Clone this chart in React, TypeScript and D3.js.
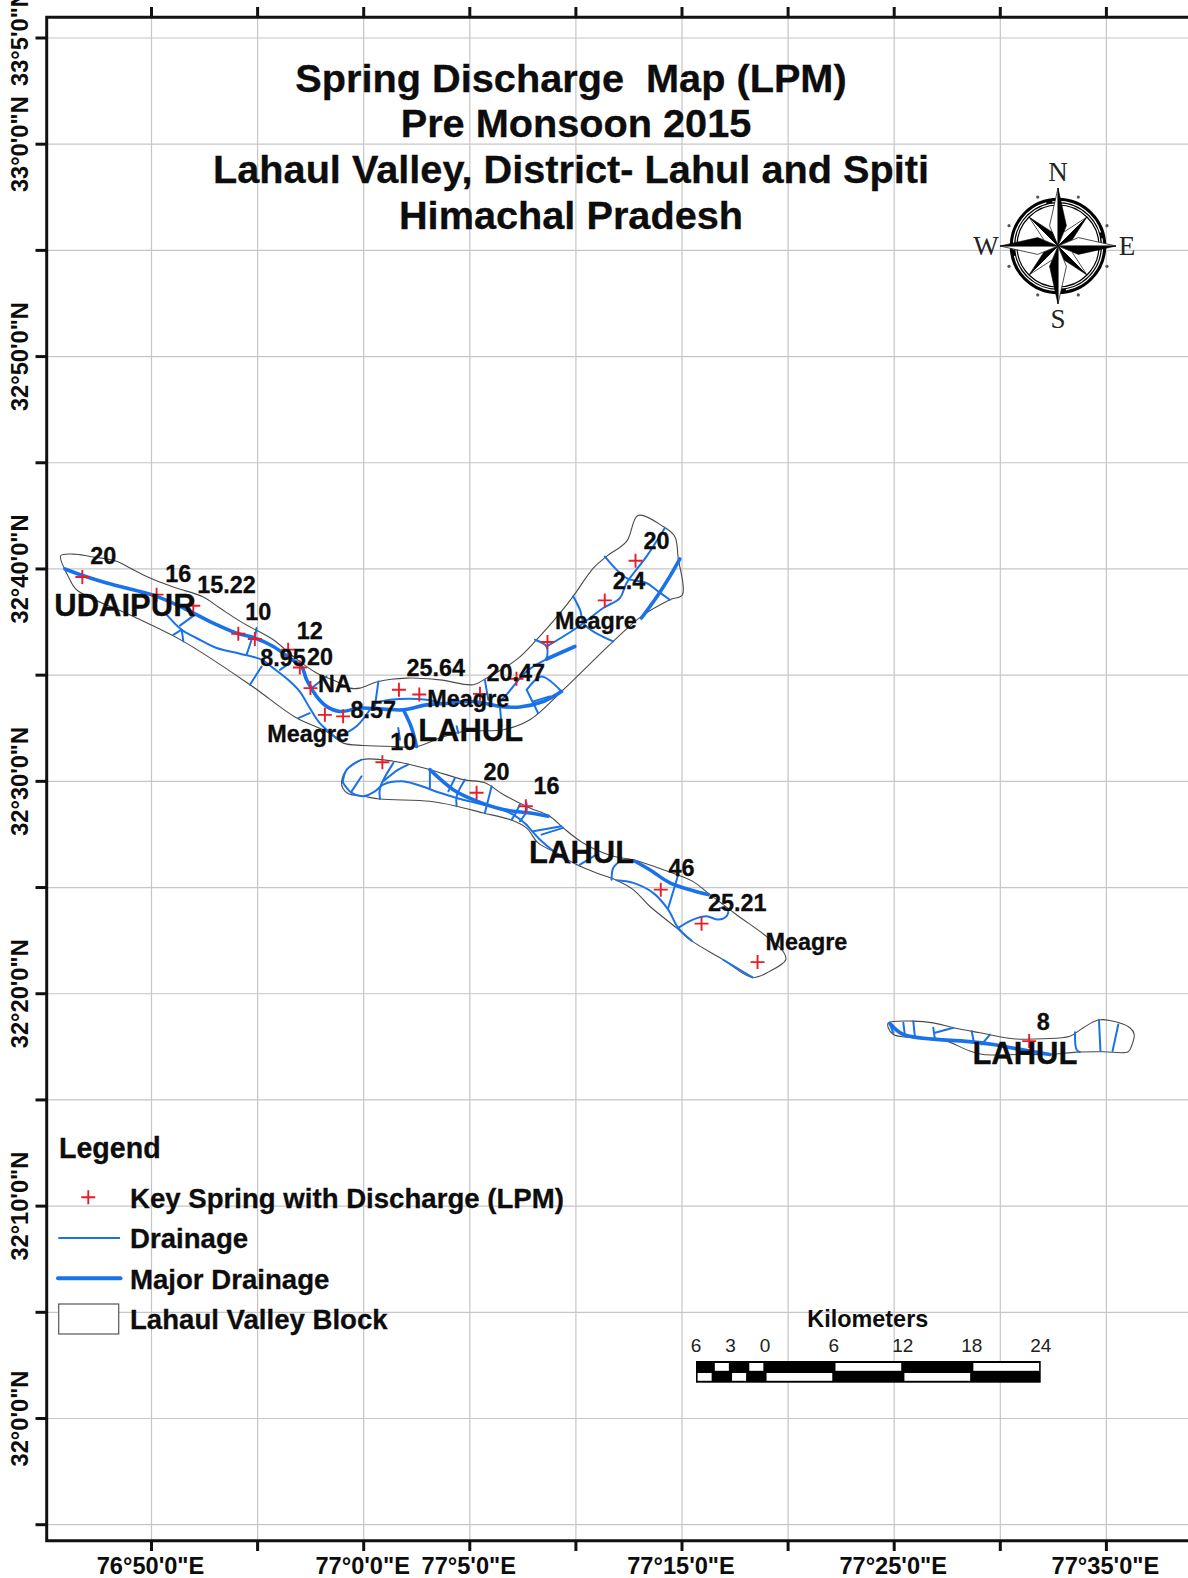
import * as d3 from 'd3'

const width = 1188, height = 1578

// map positions are arc minutes: east of 76°00' and north of 32°00'
type Pt = [number, number]

const lonTicks = [50, 55, 60, 65, 70, 75, 80, 85, 90, 95]
const latTicks = [65, 60, 55, 50, 45, 40, 35, 30, 25, 20, 15, 10, 5, 0, -5]
const lonLabels: [number, string][] = [
  [50, `76°50'0"E`], [60, `77°0'0"E`], [65, `77°5'0"E`],
  [75, `77°15'0"E`], [85, `77°25'0"E`], [95, `77°35'0"E`]
]
const latLabels: [number, string][] = [
  [65, `33°5'0"N`], [60, `33°0'0"N`], [50, `32°50'0"N`], [40, `32°40'0"N`],
  [30, `32°30'0"N`], [20, `32°20'0"N`], [10, `32°10'0"N`], [0, `32°0'0"N`]
]

const titleLines = ['Spring Discharge  Map (LPM)', 'Pre Monsoon 2015', 'Lahaul Valley, District- Lahul and Spiti', 'Himachal Pradesh']

const blocks: Pt[][] = [
  [[45.72,40.62],[46.32,40.70],[47.10,40.59],[48.36,40.36],[48.99,40.04],[49.93,39.57],[51.03,39.15],[52.44,38.68],[53.22,38.16],[54.32,37.45],[55.74,36.67],[56.68,35.88],[57.78,35.10],[58.72,34.70],[59.35,34.39],[59.82,34.39],[60.69,34.70],[62.02,34.86],[63.59,34.78],[65.16,34.55],[65.79,34.86],[67.20,35.73],[68.15,36.67],[69.25,37.92],[69.87,38.71],[70.82,40.04],[71.44,40.59],[72.39,41.30],[72.93,42.52],[74.11,42.00],[74.66,41.53],[74.82,40.51],[75.02,38.79],[74.43,38.55],[73.09,37.77],[71.76,36.59],[69.32,34.23],[67.83,32.90],[66.58,32.43],[64.69,32.35],[63.59,32.04],[62.49,31.64],[61.40,31.64],[59.98,31.69],[59.04,31.80],[58.25,32.35],[56.84,32.98],[54.64,34.55],[51.50,36.59],[48.97,37.84],[46.47,39.02],[46.08,39.65],[45.92,39.96]],
  [[58.96,30.00],[59.20,30.55],[59.90,31.02],[61.40,30.95],[63.12,30.55],[64.69,30.08],[65.71,29.93],[66.58,29.38],[67.83,28.75],[68.77,28.36],[69.40,27.81],[70.34,27.10],[71.76,26.47],[72.70,26.31],[74.11,25.84],[75.51,25.29],[76.23,24.74],[77.57,23.72],[78.98,22.70],[79.76,22.00],[79.89,21.60],[79.14,21.06],[78.32,20.77],[76.94,21.60],[75.37,22.55],[74.74,23.10],[73.48,24.12],[72.70,24.90],[71.91,25.34],[70.97,25.69],[70.03,26.08],[69.09,26.63],[68.22,27.10],[67.67,27.81],[66.89,28.20],[65.63,28.51],[64.38,28.83],[63.12,29.06],[60.77,29.17],[59.98,29.30],[59.28,29.42],[59.01,29.69]],
  [[84.72,18.63],[85.90,18.71],[86.84,18.63],[87.79,18.40],[89.04,18.16],[90.61,17.88],[92.02,17.88],[93.28,18.00],[93.91,18.40],[94.61,18.76],[95.16,18.74],[96.11,18.40],[96.31,18.08],[96.18,17.53],[96.03,17.27],[94.85,17.27],[93.59,17.25],[92.34,17.14],[90.93,17.14],[89.20,17.14],[88.57,17.30],[87.24,17.85],[85.90,17.93],[84.96,18.08],[84.72,18.40]]
]

const majorDrainage: Pt[][] = [
  [[45.92,40.00],[46.79,39.68],[47.89,39.34],[49.46,38.94],[50.24,38.71],[51.34,38.24],[52.12,37.85],[52.91,37.45],[54.01,36.98],[54.87,36.75],[55.74,36.35],[56.52,35.80],[57.07,35.41],[57.31,34.78],[57.78,34.00],[58.25,33.53],[58.88,33.29],[59.82,33.45],[60.92,33.40],[61.87,33.37],[62.97,33.60],[64.06,33.68],[65.16,33.76],[66.42,33.53],[67.36,33.50],[68.46,33.76],[69.32,34.23]],
  [[61.87,33.37],[62.26,32.51],[62.49,31.64]],
  [[69.95,36.35],[68.62,35.76]],
  [[74.90,40.47],[74.43,39.65],[73.88,38.79],[73.09,37.69]],
  [[72.78,26.24],[73.48,25.84],[74.43,25.22],[75.37,24.90],[76.23,24.67]],
  [[63.12,30.55],[64.22,29.61],[65.16,29.14],[66.58,28.67],[67.83,28.51],[68.70,28.36]],
  [[84.80,18.60],[85.43,18.08],[87.00,17.85],[88.26,17.77],[89.67,17.61],[90.93,17.38],[92.34,17.14]]
]

const minorDrainage: Pt[][] = [
  [[68.62,35.76],[67.68,35.18],[66.73,34.08],[66.42,33.76]],
  [[50.71,37.85],[51.42,37.14],[52.12,36.75],[53.07,36.28],[54.17,36.01],[55.19,35.73],[55.74,35.33],[56.44,34.78],[56.99,34.23],[57.46,33.45],[57.93,32.74],[58.72,32.04]],
  [[54.48,35.96],[54.72,36.67]],
  [[55.19,35.41],[54.64,34.55]],
  [[51.50,36.59],[51.42,37.14]],
  [[51.03,36.90],[51.42,37.14]],
  [[51.34,37.33],[52.05,37.85]],
  [[56.05,35.25],[56.52,35.57]],
  [[56.91,32.98],[57.46,33.21]],
  [[57.54,34.39],[58.25,34.94]],
  [[58.72,32.04],[59.66,32.59],[60.29,33.37]],
  [[54.95,37.22],[54.87,36.75]],
  [[60.69,34.70],[60.53,33.53]],
  [[61.63,32.51],[61.71,31.96]],
  [[60.53,33.69],[61.24,33.84],[62.97,33.84],[63.75,33.65]],
  [[64.38,32.59],[64.46,32.27]],
  [[65.71,34.78],[65.87,33.84]],
  [[66.42,33.53],[66.50,32.59]],
  [[68.62,35.73],[68.62,36.35],[68.07,36.67]],
  [[68.62,36.35],[70.03,37.22],[71.29,38.16],[72.07,38.63],[72.39,39.34],[73.33,40.59],[74.19,41.93]],
  [[67.68,34.31],[67.99,33.68],[68.22,33.21]],
  [[67.68,34.31],[68.38,34.94],[69.32,34.23]],
  [[67.99,33.76],[68.77,34.00]],
  [[69.87,38.71],[70.19,38.08],[70.42,37.37],[71.76,36.59]],
  [[71.36,40.59],[72.39,39.57],[73.33,39.34],[73.88,38.94],[74.43,38.55]],
  [[59.01,29.96],[59.43,29.46],[59.98,29.30],[60.53,29.53],[60.92,29.85],[61.79,30.00],[62.49,29.85],[63.59,29.46],[64.38,29.22],[65.32,28.98],[66.26,28.75],[67.05,28.43],[67.67,27.96]],
  [[59.01,29.96],[59.20,30.55],[59.90,31.02]],
  [[59.43,29.53],[59.90,30.24]],
  [[60.77,29.17],[60.77,29.69],[61.40,30.87]],
  [[60.92,30.00],[61.63,30.55],[62.10,30.79]],
  [[63.12,30.55],[63.12,29.69]],
  [[64.30,30.16],[63.99,29.53]],
  [[64.77,30.08],[64.38,29.30],[64.38,28.83]],
  [[66.03,29.77],[65.71,28.51]],
  [[67.67,28.98],[67.67,28.59],[67.36,28.12]],
  [[67.36,28.91],[67.12,28.43],[66.97,28.20]],
  [[67.99,27.65],[69.32,27.89]],
  [[68.38,27.49],[69.40,27.81]],
  [[67.67,27.96],[68.30,27.26],[68.85,26.79],[69.72,26.16]],
  [[70.19,26.08],[70.97,26.55]],
  [[71.68,25.37],[71.76,25.92],[72.07,26.24]],
  [[71.91,25.34],[72.70,25.22],[73.64,24.75],[74.35,23.96],[74.82,23.10],[75.45,22.50]],
  [[74.35,24.04],[74.66,25.06],[74.82,25.61]],
  [[74.82,23.10],[75.52,23.49],[76.15,23.65],[76.70,23.49],[77.10,23.65],[77.17,23.96],[76.78,24.04]],
  [[76.94,21.60],[78.32,20.77]],
  [[84.80,18.55],[84.96,18.16]],
  [[85.43,18.63],[85.51,18.00]],
  [[85.90,18.71],[85.98,17.93]],
  [[86.84,18.40],[86.92,17.85]],
  [[86.92,18.16],[87.79,18.40]],
  [[88.65,18.24],[88.76,17.69]],
  [[89.51,18.08],[89.12,17.61]],
  [[93.52,18.19],[93.59,17.38],[93.75,17.25]],
  [[94.65,18.76],[94.72,17.30]],
  [[95.56,18.55],[95.29,17.30]]
]

const springs: Pt[] = [
  [46.74,39.62],[50.24,38.79],[51.97,38.27],[54.09,36.95],[54.87,36.70],[56.44,36.20],[56.99,35.36],[57.49,34.39],[58.17,33.13],[59.03,33.06],
  [61.66,34.31],[62.62,34.09],[65.48,34.12],[67.20,34.83],[68.66,36.56],[71.36,38.52],[72.81,40.39],
  [60.88,30.90],[65.32,29.46],[67.64,28.83],[74.00,24.90],[75.92,23.30],[78.56,21.49],[91.36,17.77]
]

const dischargeLabels: [string, number, number][] = [
  ['20',47.73,40.23],['16',51.26,39.37],['15.22',53.54,38.87],['10',55.03,37.58],['12',57.46,36.71],['8.95',56.20,35.41],['20',57.94,35.49],['NA',58.64,34.20],
  ['8.57',60.45,32.98],['Meagre',57.38,31.83],['25.64',63.40,34.94],['Meagre',64.93,33.50],['20.47',67.17,34.71],['Meagre',70.94,37.17],['2.4',72.50,39.07],['20',73.80,40.95],
  ['10',61.87,31.49],['20',66.26,30.05],['16',68.62,29.42],['46',74.98,25.53],['25.21',77.60,23.91],['Meagre',80.86,22.04],['8',92.02,18.29]
]
const placeLabels: [string, number, number][] = [
  ['UDAIPUR',48.75,37.80],['LAHUL',65.04,31.88],['LAHUL',70.27,26.16],['LAHUL',91.16,16.67]
]

const scaleBreaks = [-6, -4.5, -3, -1.5, 0, 6, 12, 18, 24]
const scaleLabels = [-6, -3, 0, 6, 12, 18, 24]

const legendItems = ['Key Spring with Discharge (LPM)', 'Drainage', 'Major Drainage', 'Lahaul Valley Block']

const compassPoints = d3.range(8).map(i => i * Math.PI / 4)
const compassTicks = d3.range(8).map(i => Math.PI / 8 + i * Math.PI / 4)

const BLUE = '#1a72ea'
const INK = '#0d0d0d'
const RED = '#ea1c28'
const SANS = '"Liberation Sans", Arial, sans-serif'

const x = d3.scaleLinear().domain([50, 95]).range([151.5, 1106.4])
const y = d3.scaleLinear().domain([65, -5]).range([38, 1524.7])
const km = d3.scaleLinear().domain([-6, 24]).range([696, 1040.7])

const flow = d3.line<Pt>().x(d => x(d[0])).y(d => y(d[1])).curve(d3.curveCatmullRom.alpha(0.5))
const outline = d3.line<Pt>().x(d => x(d[0])).y(d => y(d[1])).curve(d3.curveCatmullRomClosed.alpha(0.5))

const plus = (cx: number, cy: number, r = 7) => `M${cx - r},${cy}H${cx + r}M${cx},${cy - r}V${cy + r}`

const Compass = () => {
  const cx = 1058, cy = 246
  const poly = (pts: [number, number][]) => 'M' + pts.map(p => p.join(',')).join('L') + 'Z'
  const spike = (a: number, r: number, side: number, s: number) =>
    poly([[0, 0], d3.pointRadial(a, r), d3.pointRadial(a + s * Math.PI / 8, side)])
  return (
    <g transform={`translate(${cx},${cy})`}>
      <circle r={45.5} fill='none' stroke='#000' strokeWidth={5.5} />
      <circle r={44.6} fill='none' stroke='#fff' strokeWidth={1.2} strokeDasharray='62 6' />
      <circle r={41} fill='none' stroke='#000' strokeWidth={1.2} />
      {compassTicks.map((a, i) => {
        const [tx, ty] = d3.pointRadial(a, 53)
        return <circle key={i} cx={tx} cy={ty} r={1.6} fill='#555' />
      })}
      {compassPoints.map((a, i) => {
        const diag = i % 2 === 1
        const r = diag ? 41 : 58
        const side = diag ? 15 : 22
        return (
          <g key={i}>
            <path d={spike(a, r, side, -1)} fill='#fff' stroke='#222' strokeWidth={0.8} strokeLinejoin='round' />
            <path d={spike(a, r, side, 1)} fill='#000' stroke='#000' strokeWidth={0.6} strokeLinejoin='round' />
          </g>
        )
      })}
      <g fontFamily='"Liberation Serif", serif' fontSize={27} fill='#222' textAnchor='middle'>
        <text x={0} y={-65}>N</text>
        <text x={0} y={82}>S</text>
        <text x={-72} y={9}>W</text>
        <text x={69} y={9}>E</text>
      </g>
    </g>
  )
}

export default function App() {
  const left = 46.7, top = 17.3, bottom = 1540.7
  return (
    <svg width={width} height={height} viewBox={`0 0 ${width} ${height}`}
      style={{ position: 'absolute', left: 0, top: 0, display: 'block', background: '#fff' }}>
      {/* graticule */}
      <g stroke='#c6c6c6' strokeWidth={1.2}>
        {lonTicks.map(d => <line key={d} x1={x(d)} x2={x(d)} y1={top} y2={bottom} />)}
        {latTicks.map(d => <line key={d} x1={left} x2={width} y1={y(d)} y2={y(d)} />)}
      </g>

      {blocks.map((b, i) => <path key={i} d={outline(b) ?? ''} fill='none' stroke='#4a4a4a' strokeWidth={1.1} />)}
      <g fill='none' stroke={BLUE} strokeLinecap='round' strokeLinejoin='round'>
        {minorDrainage.map((d, i) => <path key={i} d={flow(d) ?? ''} strokeWidth={2} />)}
        {majorDrainage.map((d, i) => <path key={i} d={flow(d) ?? ''} strokeWidth={3.6} />)}
      </g>
      {springs.map((s, i) => <path key={i} d={plus(x(s[0]), y(s[1]))} stroke={RED} strokeWidth={1.9} fill='none' />)}

      <g fontFamily={SANS} fontWeight={700} fill={INK} stroke={INK} strokeWidth={0.3} textAnchor='middle'>
        {dischargeLabels.map((l, i) => <text key={i} x={x(l[1])} y={y(l[2])} fontSize={23.4}>{l[0]}</text>)}
        {placeLabels.map((l, i) => <text key={i} x={x(l[1])} y={y(l[2])} fontSize={31}>{l[0]}</text>)}
        {titleLines.map((t, i) => (
          <text key={i} x={i === 1 ? 576 : 571} y={91.8 + i * 45.6} fontSize={39.7} style={{ whiteSpace: 'pre' }}>{t}</text>
        ))}
      </g>

      {/* frame and ticks */}
      <path d={`M${width},${top}H${left}V${bottom}H${width}`} fill='none' stroke='#111' strokeWidth={3} />
      <g stroke='#111' strokeWidth={3}>
        {lonTicks.map(d => (
          <g key={d}>
            <line x1={x(d)} x2={x(d)} y1={7} y2={top} />
            <line x1={x(d)} x2={x(d)} y1={bottom} y2={1551} />
          </g>
        ))}
        {latTicks.map(d => <line key={d} x1={35.5} x2={left} y1={y(d)} y2={y(d)} />)}
      </g>
      <g fontFamily={SANS} fontWeight={700} fontSize={23.6} fill={INK} textAnchor='middle'>
        {lonLabels.map(([d, t]) => <text key={d} x={x(d) - 1} y={1574}>{t}</text>)}
        {latLabels.map(([d, t]) => (
          <text key={d} transform={`translate(28,${y(d)}) rotate(-90)`}>{t}</text>
        ))}
      </g>

      {/* legend */}
      <g fontFamily={SANS} fontWeight={700} fill={INK} stroke={INK} strokeWidth={0.3}>
        <text x={59} y={1158} fontSize={28.6}>Legend</text>
        {legendItems.map((t, i) => <text key={t} x={130} y={1207.6 + i * 40.6} fontSize={27.6}>{t}</text>)}
      </g>
      <path d={plus(88.3, 1197.3)} stroke={RED} strokeWidth={1.9} fill='none' />
      <line x1={58.3} x2={120} y1={1238} y2={1238} stroke={BLUE} strokeWidth={1.8} />
      <line x1={58} x2={120.5} y1={1278.3} y2={1278.3} stroke={BLUE} strokeWidth={4} strokeLinecap='round' />
      <rect x={58.7} y={1304} width={60} height={30} fill='#fff' stroke='#555' strokeWidth={1.2} />

      {/* scale bar */}
      <g fontFamily={SANS} fill={INK} textAnchor='middle'>
        <text x={867.8} y={1326.7} fontSize={23.4} fontWeight={700}>Kilometers</text>
        {scaleLabels.map(d => <text key={d} x={km(d)} y={1351.7} fontSize={19} fill='#222'>{Math.abs(d)}</text>)}
      </g>
      <rect x={km(-6)} y={1361} width={km(24) - km(-6)} height={21.7} fill='#000' />
      {d3.pairs(scaleBreaks).map(([a, b], i) => (
        <rect key={a} x={km(a) + 1.6} width={km(b) - km(a) - 3.2} y={i % 2 === 1 ? 1363 : 1373} height={7.8} fill='#fff' />
      ))}

      <Compass />
    </svg>
  )
}
